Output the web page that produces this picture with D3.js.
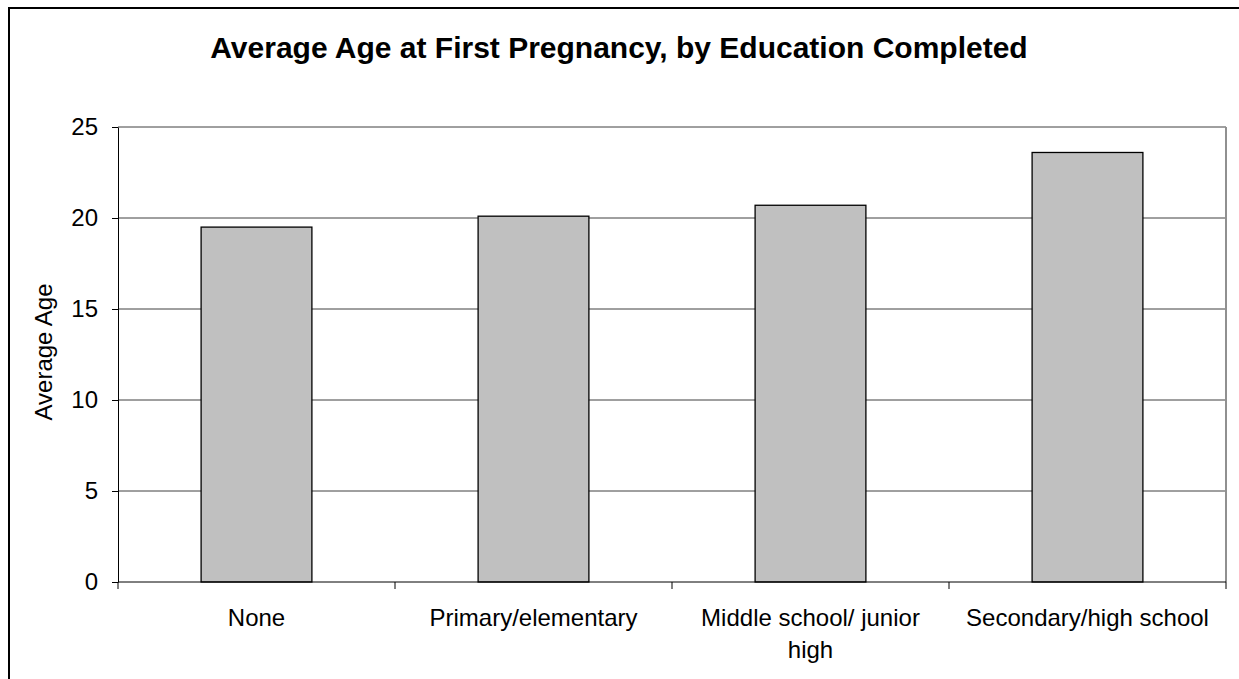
<!DOCTYPE html>
<html>
<head>
<meta charset="utf-8">
<script src="https://cdn.jsdelivr.net/npm/d3@7"></script>
<style>
  body { margin: 0; background: #fff; }
  svg { display: block; font-family: "Liberation Sans", Arial, sans-serif; }
</style>
</head>
<body>
<svg id="chart" width="1239" height="679"></svg>
<script>
// chart data
const categories = ['None', 'Primary/elementary', 'Middle school/ junior high', 'Secondary/high school'];
const avgAge = [19.5, 20.1, 20.7, 23.6];
const yTicks = [0, 5, 10, 15, 20, 25];

const svg = d3.select('#chart');

// outer chart border (runs off the right and bottom edge like the original)
svg.append('rect')
  .attr('x', 9).attr('y', 8)
  .attr('width', 1250).attr('height', 690)
  .attr('fill', 'none').attr('stroke', '#000').attr('stroke-width', 2);

let plot = { left: 118, right: 1226, top: 127, bottom: 582 };

// category scale for the axis ticks, bar scale for the bars themselves
let xCat = d3.scaleBand().domain(categories).range([plot.left, plot.right]).padding(0);
let xBar = d3.scaleBand().domain(categories).range([plot.left, plot.right])
  .paddingInner(0.6).paddingOuter(0.3);
let y = d3.scaleLinear().domain([0, 25]).range([plot.bottom, plot.top]);

// gridlines
svg.append('g').selectAll('line').data(yTicks.filter(d => d > 0)).enter().append('line')
  .attr('x1', plot.left).attr('x2', plot.right)
  .attr('y1', d => y(d)).attr('y2', d => y(d))
  .attr('stroke', '#404040').attr('stroke-width', 1);

// plot area right edge
svg.append('line')
  .attr('x1', plot.right).attr('x2', plot.right)
  .attr('y1', plot.top).attr('y2', plot.bottom)
  .attr('stroke', '#909090').attr('stroke-width', 2);

// bars
svg.append('g').selectAll('rect').data(avgAge).enter().append('rect')
  .attr('x', (d, i) => xBar(categories[i]))
  .attr('y', d => y(d))
  .attr('width', xBar.bandwidth())
  .attr('height', d => y(0) - y(d))
  .attr('fill', '#c0c0c0')
  .attr('stroke', '#000').attr('stroke-width', 1.3);

// y axis
let yAxis = svg.append('g')
  .attr('transform', `translate(${plot.left},0)`)
  .call(d3.axisLeft(y).tickValues(yTicks).tickSize(6).tickPadding(14).tickSizeOuter(0));
yAxis.select('.domain').attr('stroke', '#000');
yAxis.selectAll('.tick text').attr('font-size', 24).attr('fill', '#000')
  .attr('font-family', '"Liberation Sans", Arial, sans-serif');

// x axis (ticks between categories)
let xAxis = svg.append('g')
  .attr('transform', `translate(0,${plot.bottom})`);
xAxis.append('line').attr('x1', plot.left).attr('x2', plot.right)
  .attr('stroke', '#000');
xAxis.selectAll('.tk').data(categories.concat(['end'])).enter().append('line')
  .attr('class', 'tk')
  .attr('x1', (d, i) => i < categories.length ? xCat(d) : plot.right)
  .attr('x2', (d, i) => i < categories.length ? xCat(d) : plot.right)
  .attr('y1', 0).attr('y2', 7)
  .attr('stroke', '#000');

// wrap long labels inside the category width
let wrap = function(text, width) {
  text.each(function() {
    let t = d3.select(this);
    let words = t.text().split(/\s+/).reverse();
    let word;
    let line = [];
    let x = t.attr('x');
    let tspan = t.text(null).append('tspan').attr('x', x).attr('dy', 0);
    while ((word = words.pop())) {
      line.push(word);
      tspan.text(line.join(' '));
      if (tspan.node().getComputedTextLength() > width) {
        line.pop();
        tspan.text(line.join(' '));
        line = [word];
        tspan = t.append('tspan').attr('x', x).attr('dy', 32).text(word);
      }
    }
  });
};

svg.append('g').selectAll('text').data(categories).enter().append('text')
  .attr('x', d => xCat(d) + xCat.bandwidth() / 2)
  .attr('y', 626)
  .attr('text-anchor', 'middle')
  .attr('font-size', 24)
  .text(d => d)
  .call(wrap, 250);

// y axis title
svg.append('text')
  .attr('transform', 'translate(52,352) rotate(-90)')
  .attr('text-anchor', 'middle')
  .attr('font-size', 24)
  .text('Average Age');

// chart title
svg.append('text')
  .attr('x', 619).attr('y', 58)
  .attr('text-anchor', 'middle')
  .attr('font-size', 30).attr('font-weight', 'bold')
  .text('Average Age at First Pregnancy, by Education Completed');
</script>
</body>
</html>
